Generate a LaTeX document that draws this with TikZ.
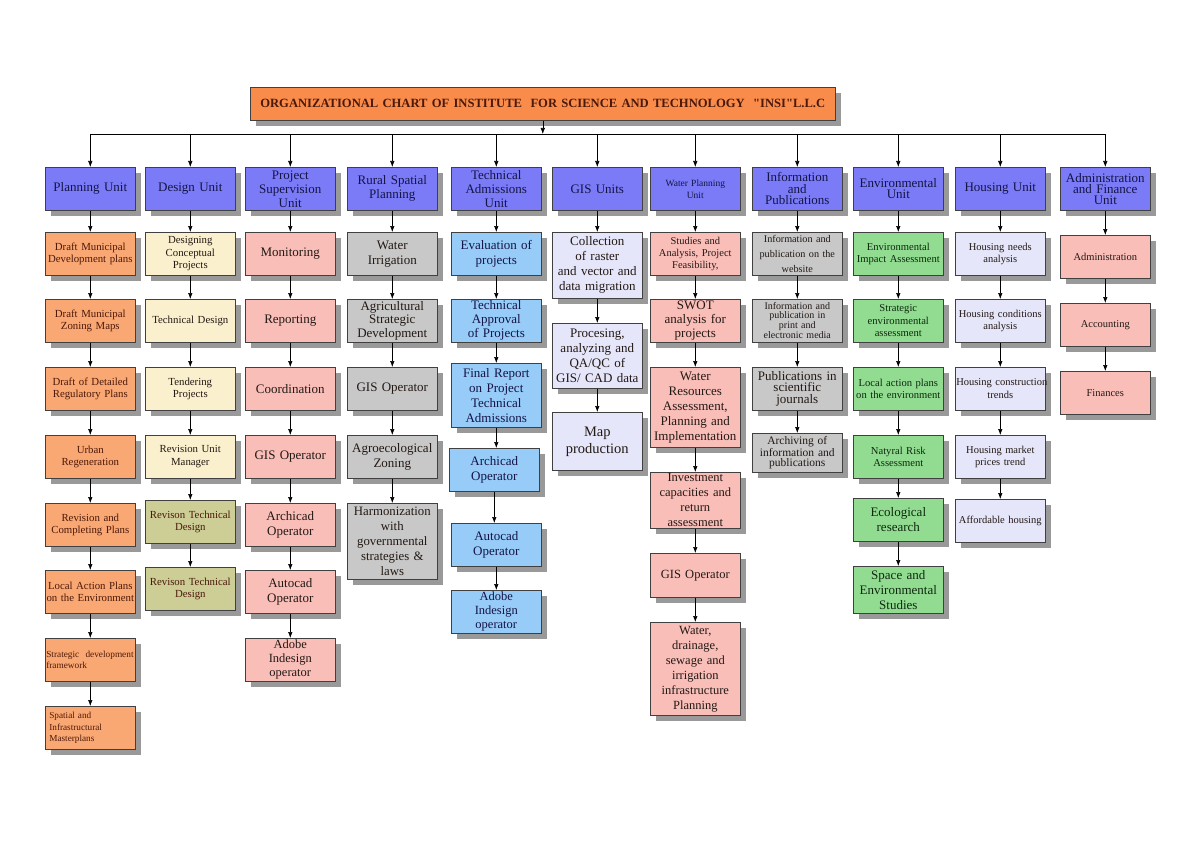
\documentclass[tikz,border=0pt]{standalone}
\usepackage{fontspec}
\setmainfont{Liberation Serif}
\usetikzlibrary{arrows.meta,shadows}
\hyphenpenalty=10000
\exhyphenpenalty=10000
\definecolor{cunit}{RGB}{123,123,247}
\definecolor{ctitle}{RGB}{249,140,75}
\definecolor{corange}{RGB}{250,168,115}
\definecolor{ccream}{RGB}{250,240,205}
\definecolor{colive}{RGB}{205,205,150}
\definecolor{cpink}{RGB}{250,190,185}
\definecolor{cgray}{RGB}{200,200,200}
\definecolor{cblue}{RGB}{152,204,248}
\definecolor{clav}{RGB}{230,230,250}
\definecolor{cgreen}{RGB}{145,220,145}
\definecolor{tnavy}{RGB}{20,20,70}
\definecolor{tmaroon}{RGB}{75,25,10}
\definecolor{tdark}{RGB}{35,25,20}
\definecolor{tgreen}{RGB}{15,40,15}
\tikzset{
  bx/.style={draw=black!75, line width=0.6pt, align=center, inner sep=1pt,
    text width=88pt, minimum width=90pt, minimum height=43pt, anchor=north west,
    drop shadow={shadow xshift=6pt, shadow yshift=-6pt, fill=black!40, opacity=1}},
  unitbox/.style={bx, fill=cunit, text=tnavy, font=\fontsize{13}{14}\selectfont},
  orangebox/.style={bx, fill=corange, text=tmaroon, font=\fontsize{10.8}{12.5}\selectfont},
  creambox/.style={bx, fill=ccream, text=tdark, font=\fontsize{10.8}{12.5}\selectfont},
  olivebox/.style={bx, fill=colive, text=tmaroon, font=\fontsize{10.8}{12.5}\selectfont},
  pinkbox/.style={bx, fill=cpink, text=tdark, font=\fontsize{13}{15}\selectfont},
  graybox/.style={bx, fill=cgray, text=tdark, font=\fontsize{13}{15}\selectfont},
  bluebox/.style={bx, fill=cblue, text=tnavy, font=\fontsize{13}{15}\selectfont},
  lavbox/.style={bx, fill=clav, text=tdark, font=\fontsize{13}{15}\selectfont},
  greenbox/.style={bx, fill=cgreen, text=tgreen, font=\fontsize{10.6}{12.5}\selectfont},
  small/.style={font=\fontsize{10.5}{12.5}\selectfont},
  arr/.style={draw=black, line width=0.6pt, -{Latex[length=6pt,width=4.5pt]}},
  ln/.style={draw=black, line width=0.6pt}
}
\begin{document}
\begin{tikzpicture}[x=1pt,y=-1pt]
\useasboundingbox[fill=white] (0,0) rectangle (1200,848);
% title
\node[bx, fill=ctitle, text=tmaroon, text width=582pt, minimum width=585pt, minimum height=33pt,
  font=\bfseries\fontsize{12.6}{14}\selectfont] (title) at (250,87)
  {ORGANIZATIONAL CHART OF INSTITUTE\ \ FOR SCIENCE AND TECHNOLOGY\ \ \textquotedbl INSI\textquotedbl L.L.C};
\coordinate (bus) at (0,134);
% units
\node[unitbox] (u1) at (45,167) {Planning Unit};
\node[unitbox] (u2) at (145,167) {Design Unit};
\node[unitbox] (u3) at (245,167) {Project\\Supervision\\Unit};
\node[unitbox] (u4) at (347,167) {Rural Spatial\\Planning};
\node[unitbox] (u5) at (451,167) {Technical\\Admissions\\Unit};
\node[unitbox] (u6) at (552,167) {GIS Units};
\node[unitbox, font=\fontsize{9.5}{12}\selectfont] (u7) at (650,167) {Water Planning\\Unit};
\node[unitbox, font=\fontsize{13}{11.5}\selectfont] (u8) at (752,167) {Information\\and\\Publications};
\node[unitbox, font=\fontsize{13}{11.5}\selectfont] (u9) at (853,167) {Environmental\\Unit};
\node[unitbox] (u10) at (955,167) {Housing Unit};
\node[unitbox, font=\fontsize{13}{11}\selectfont] (u11) at (1060,167) {Administration\\and Finance\\Unit};
% column 1
\node[orangebox] (p1) at (45,232) {Draft Municipal\\Development plans};
\node[orangebox] (p2) at (45,299) {Draft Municipal\\Zoning Maps};
\node[orangebox] (p3) at (45,367) {Draft of Detailed\\Regulatory Plans};
\node[orangebox] (p4) at (45,435) {Urban\\Regeneration};
\node[orangebox] (p5) at (45,503) {Revision and\\Completing Plans};
\node[orangebox] (p6) at (45,570) {Local Action Plans\\on the Environment};
\node[orangebox, align=left, font=\fontsize{9.3}{11}\selectfont] (p7) at (45,638) {Strategic\ \ development\\framework\\[3pt]};
\node[orangebox, align=left, font=\fontsize{9.2}{11.5}\selectfont] (p8) at (45,706) {\ Spatial and\\\ Infrastructural\\\ Masterplans};
% column 2
\node[creambox] (d1) at (145,232) {Designing\\Conceptual\\Projects};
\node[creambox] (d2) at (145,299) {Technical Design};
\node[creambox] (d3) at (145,367) {Tendering\\Projects};
\node[creambox] (d4) at (145,435) {Revision Unit\\Manager};
\node[olivebox] (d5) at (145,500) {Revison Technical\\Design};
\node[olivebox] (d6) at (145,567) {Revison Technical\\Design};
% column 3
\node[pinkbox] (s1) at (245,232) {Monitoring};
\node[pinkbox] (s2) at (245,299) {Reporting};
\node[pinkbox] (s3) at (245,367) {Coordination};
\node[pinkbox] (s4) at (245,435) {GIS Operator};
\node[pinkbox] (s5) at (245,503) {Archicad\\Operator};
\node[pinkbox] (s6) at (245,570) {Autocad\\Operator};
\node[pinkbox, font=\fontsize{12.5}{14}\selectfont] (s7) at (245,638) {Adobe\\Indesign\\operator};
% column 4
\node[graybox] (r1) at (347,232) {Water\\Irrigation};
\node[graybox, font=\fontsize{13}{13.5}\selectfont] (r2) at (347,299) {Agricultural\\Strategic\\Development};
\node[graybox] (r3) at (347,367) {GIS Operator};
\node[graybox] (r4) at (347,435) {Agroecological\\Zoning};
\node[graybox, font=\fontsize{12.8}{15}\selectfont, minimum height=76pt] (r5) at (347,503) {Harmonization\\with\\governmental\\strategies \&\\laws};
% column 5
\node[bluebox] (t1) at (451,232) {Evaluation of\\projects};
\node[bluebox, font=\fontsize{13}{14}\selectfont] (t2) at (451,299) {Technical\\Approval\\of Projects};
\node[bluebox, minimum height=64pt] (t3) at (451,363) {Final Report\\on Project\\Technical\\Admissions};
\node[bluebox] (t4) at (449,448) {Archicad\\Operator};
\node[bluebox] (t5) at (451,523) {Autocad\\Operator};
\node[bluebox, font=\fontsize{12.5}{14}\selectfont] (t6) at (451,590) {Adobe\\Indesign\\operator};
% column 6
\node[lavbox, minimum height=66pt] (g1) at (552,232) {Collection\\of raster\\and vector and\\data migration};
\node[lavbox, minimum height=65pt] (g2) at (552,323) {Procesing,\\analyzing and\\QA/QC of\\GIS/ CAD data};
\node[lavbox, minimum height=58pt, font=\fontsize{14.5}{17}\selectfont] (g3) at (552,412) {Map\\production};
% column 7
\node[pinkbox, font=\fontsize{10.5}{12}\selectfont] (w1) at (650,232) {Studies and\\Analysis, Project\\Feasibility,\\[3pt]};
\node[pinkbox, font=\fontsize{13}{14}\selectfont] (w2) at (650,299) {SWOT\\analysis for\\projects};
\node[pinkbox, minimum height=80pt] (w3) at (650,367) {Water\\Resources\\Assessment,\\Planning and\\Implementation};
\node[pinkbox, font=\fontsize{12.5}{15}\selectfont, minimum height=56pt] (w4) at (650,472) {Investment\\capacities and\\return\\assessment};
\node[pinkbox, font=\fontsize{12.5}{15}\selectfont, minimum height=44pt] (w5) at (650,553) {GIS Operator};
\node[pinkbox, font=\fontsize{12.5}{15}\selectfont, minimum height=93pt] (w6) at (650,622) {Water,\\drainage,\\sewage and\\irrigation\\infrastructure\\Planning};
% column 8
\node[graybox, font=\fontsize{10.2}{15}\selectfont] (i1) at (752,232) {Information and\\publication on the\\website};
\node[graybox, font=\fontsize{10}{9}\selectfont] (i2) at (752,299) {Information and\\publication in\\print and\\electronic media};
\node[graybox, font=\fontsize{13}{11.5}\selectfont] (i3) at (752,367) {Publications in\\scientific\\journals};
\node[graybox, font=\fontsize{11.5}{10}\selectfont, minimum height=39pt] (i4) at (752,433) {Archiving of\\information and\\publications};
% column 9
\node[greenbox] (e1) at (853,232) {Environmental\\Impact Assessment};
\node[greenbox] (e2) at (853,299) {Strategic\\environmental\\assessment};
\node[greenbox] (e3) at (853,367) {Local action plans\\on the environment};
\node[greenbox] (e4) at (853,435) {Natyral Risk\\Assessment};
\node[greenbox, font=\fontsize{13}{15}\selectfont] (e5) at (853,498) {Ecological\\research};
\node[greenbox, font=\fontsize{13}{15}\selectfont, minimum height=47pt] (e6) at (853,566) {Space and\\Environmental\\Studies};
% column 10
\node[lavbox, small] (h1) at (955,232) {Housing needs\\analysis};
\node[lavbox, small] (h2) at (955,299) {Housing conditions\\analysis};
\node[lavbox, small] (h3) at (955,367) {\mbox{Housing construction}\\trends};
\node[lavbox, small] (h4) at (955,435) {Housing market\\prices trend};
\node[lavbox, small] (h5) at (955,499) {Affordable housing};
% column 11
\node[pinkbox, small] (a1) at (1060,235) {Administration};
\node[pinkbox, small] (a2) at (1060,303) {Accounting};
\node[pinkbox, small] (a3) at (1060,371) {Finances};
% bus
\draw[arr] (title.south) -- (title.south |- bus);
\draw[ln] (u1.north |- bus) -- (u11.north |- bus);
\foreach \u in {u1,u2,u3,u4,u5,u6,u7,u8,u9,u10,u11}
  \draw[arr] (\u.north |- bus) -- (\u.north);
% chains
\foreach \a/\b in {u1/p1,p1/p2,p2/p3,p3/p4,p4/p5,p5/p6,p6/p7,p7/p8,
  u2/d1,d1/d2,d2/d3,d3/d4,d4/d5,d5/d6,
  u3/s1,s1/s2,s2/s3,s3/s4,s4/s5,s5/s6,s6/s7,
  u4/r1,r1/r2,r2/r3,r3/r4,r4/r5,
  u5/t1,t1/t2,t2/t3,t3/t4,t4/t5,t5/t6,
  u6/g1,g1/g2,g2/g3,
  u7/w1,w1/w2,w2/w3,w3/w4,w4/w5,w5/w6,
  u8/i1,i1/i2,i2/i3,i3/i4,
  u9/e1,e1/e2,e2/e3,e3/e4,e4/e5,e5/e6,
  u10/h1,h1/h2,h2/h3,h3/h4,h4/h5,
  u11/a1,a1/a2,a2/a3}
  \draw[arr] (\a.south) -- (\a.south |- \b.north);
\end{tikzpicture}
\end{document}
